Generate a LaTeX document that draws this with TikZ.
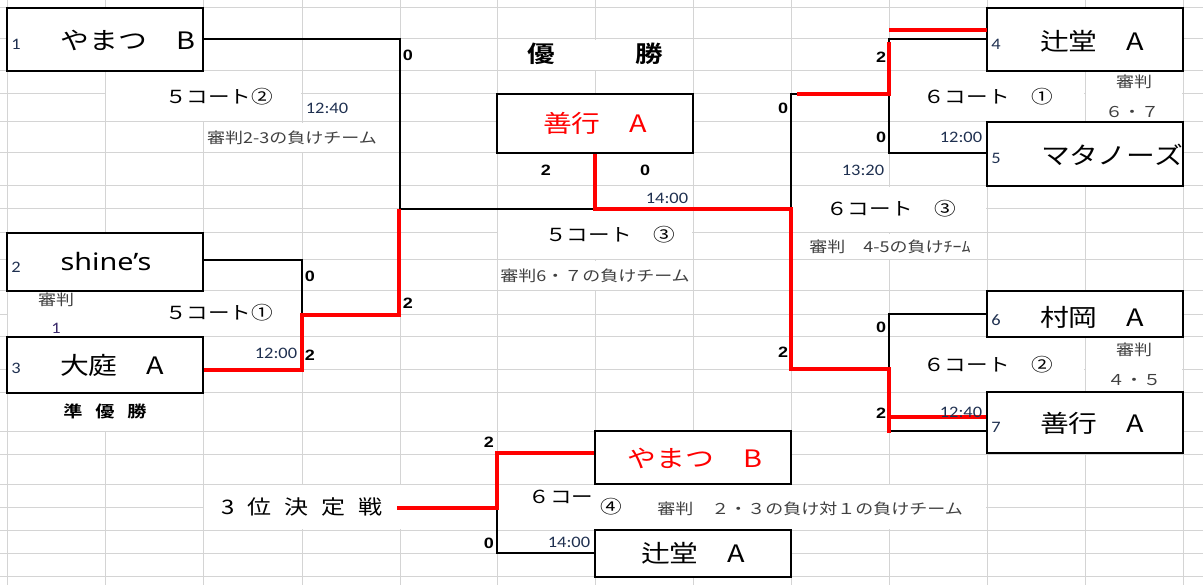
\documentclass[tikz,border=0pt]{standalone}
\usepackage{fontspec}
\setmainfont{Noto Sans CJK JP}
\newfontfamily\jp{Noto Sans CJK JP}[FakeStretch=1.2, BoldFont={Noto Sans CJK JP Bold}]
\newfontfamily\latfont{Noto Sans}[FakeStretch=1.2]
\newfontfamily\calfont{Carlito}[FakeStretch=1.15]
\newfontfamily\arifont{Liberation Sans}[FakeStretch=1.2]
\definecolor{gridc}{HTML}{D4D4D4}
\definecolor{redc}{HTML}{FF0000}
\definecolor{navy}{HTML}{1F3050}
\definecolor{refc}{HTML}{404040}
\definecolor{purp}{HTML}{3A2A6A}
\begin{document}
\begin{tikzpicture}[x=1pt,y=-1pt,
  grid/.style={draw=gridc, line width=1pt},
  box/.style={draw=black, line width=2.6pt, fill=white, minimum width=196pt, inner sep=0pt},
  blk/.style={draw=black, line width=2pt},
  win/.style={draw=redc, line width=3.6pt},
  team/.style={inner sep=0pt, font=\jp\fontsize{24}{24}\selectfont},
  idx/.style={inner sep=0pt, text=navy, font=\calfont\fontsize{16}{16}\selectfont},
  sc/.style={inner sep=0pt, font=\arifont\bfseries\fontsize{15}{15}\selectfont},
  crt/.style={inner sep=0pt, font=\jp\fontsize{18}{18}\selectfont},
  refr/.style={inner sep=0pt, text=refc, font=\jp\fontsize{15}{15}\selectfont},
  head/.style={inner sep=0pt, font=\jp\bfseries\fontsize{23}{23}\selectfont},
]
\useasboundingbox (0,0) rectangle (1203,585);
\fill[white] (0,0) rectangle (1203,585);
% spreadsheet grid
\foreach \x in {7,105,203,302,400,497,595,693,791,889,987,1085,1183}
  \draw[grid] (\x,0) -- (\x,585);
\foreach \y in {8,39,71,94,122,153,186,209,233,260,291,315,337,370,393,432,454,484,507,530,553,576}
  \draw[grid] (0,\y) -- (1203,\y);
% merged cells (no inner grid)
\foreach \a/\b/\c/\d in {105/71/302/122, 203/122/400/153, 497/39/693/71, 497/209/693/260,
  497/260/693/291, 889/71/1085/122, 1085/71/1183/122, 791/186/987/233, 791/233/987/260,
  889/337/1085/393, 1085/337/1183/393, 7/291/302/337, 7/393/203/432, 203/484/987/530}
  \fill[white] (\a+0.6,\b+0.6) rectangle (\c-0.6,\d-0.6);

% team boxes
\node[box, minimum height=63pt] (L1) at (105,39.5) {};
\node[box, minimum height=58pt] (L2) at (105,262) {};
\node[box, minimum height=56pt] (L3) at (105,365) {};
\node[box, minimum height=59pt] (W)  at (595,123.5) {};
\node[box, minimum height=63pt] (R4) at (1085,39.5) {};
\node[box, minimum height=64pt] (R5) at (1085,154) {};
\node[box, minimum height=46pt] (R6) at (1085,314) {};
\node[box, minimum height=61pt] (R7) at (1085,422.5) {};
\node[box, minimum height=53pt] (B1) at (693,457.5) {};
\node[box, minimum height=47pt] (B2) at (693,553.5) {};

% junction points
\coordinate (a1) at (400,39);
\coordinate (a2) at (400,209);
\coordinate (c1) at (302,315);
\coordinate (c2) at (302,370);
\coordinate (c3) at (399,315);
\coordinate (c4) at (399,209);
\coordinate (m1) at (595,209);
\coordinate (m2) at (791,209);
\coordinate (m3) at (791,94);
\coordinate (m4) at (797,94);
\coordinate (e1) at (889,94);
\coordinate (e2) at (889,42);
\coordinate (e3) at (889,30);
\coordinate (e4) at (889,39);
\coordinate (e5) at (889,153);
\coordinate (f1) at (791,369);
\coordinate (f2) at (889,369);
\coordinate (f3) at (889,433);
\coordinate (f4) at (889,417);
\coordinate (f5) at (889,314);
\coordinate (f6) at (889,431);
\coordinate (g0) at (397,508);
\coordinate (g1) at (497,508);
\coordinate (g2) at (497,453);
\coordinate (g3) at (497,553);

% black bracket lines
\draw[blk] (L1.east |- a1) -- (a1) -- (a2) -- (m1);
\draw[blk] (L2.east |- 0,260) -| (c1);
\draw[blk] (m2) -- (m3) -- (m4);
\draw[blk] (R4.west |- e4) -- (e4) -- (e5) -- (R5.west |- e5);
\draw[blk] (R6.west |- f5) -- (f5) -- (f6) -- (R7.west |- f6);
\draw[blk] (B1.west |- g2) -- (g2) -- (g3) -- (B2.west |- g3);

% red winning path
\draw[win] (L3.east |- c2) -- (c2) -- (c1) -- (c3) -- (c4);
\draw[win] (W.south) -- (m1) -- (m2) -- (f1) -- (f2) -- (f3);
\draw[win] (f4) -- (R7.west |- f4);
\draw[win] (m4) -- (e1) -- (e2);
\draw[win] (e3) -- ([xshift=1.5pt]R4.west |- e3);
\draw[win] (g0) -- (g1) -- (g2) -- (B1.west |- g2);

% team names
\node[team] (nL1) at (128,40) {やまつ　B};
\node[team, font=\latfont\fontsize{24}{24}\selectfont] (nL2) at (106,262) {shine’s};
\node[team] (nL3) at (112,365) {大庭　A};
\node[team, text=redc] (nW) at (595,123) {善行　A};
\node[team] (nR4) at (1092,41) {辻堂　A};
\node[team] (nR5) at (1112,155) {マタノーズ};
\node[team] (nR6) at (1092,317) {村岡　A};
\node[team] (nR7) at (1092,423) {善行　A};
\node[team, text=redc] (nB1) at (695,458) {やまつ　B};
\node[team] (nB2) at (693,553) {辻堂　A};

% seed numbers
\node[idx] (i1) at (16,44) {1};
\node[idx] (i2) at (16,267) {2};
\node[idx] (i3) at (16,368) {3};
\node[idx] (i4) at (996,44) {4};
\node[idx] (i5) at (996,158) {5};
\node[idx] (i6) at (996,320) {6};
\node[idx] (i7) at (996,427) {7};

% scores
\node[sc] (s1) at (408,55) {0};
\node[sc] (s2) at (408,303) {2};
\node[sc] (s3) at (310,276) {0};
\node[sc] (s4) at (310,355) {2};
\node[sc] (s5) at (546,170) {2};
\node[sc] (s6) at (645,170) {0};
\node[sc] (s7) at (783,108) {0};
\node[sc] (s8) at (881,57) {2};
\node[sc] (s9) at (881,137) {0};
\node[sc] (s10) at (783,352) {2};
\node[sc] (s11) at (881,327) {0};
\node[sc] (s12) at (881,413) {2};
\node[sc] (s13) at (489,442) {2};
\node[sc] (s14) at (489,543) {0};

% times
\node[idx] (t1) at (327,108) {12:40};
\node[idx] (t2) at (276,353) {12:00};
\node[idx] (t3) at (667,198) {14:00};
\node[idx] (t4) at (961,137) {12:00};
\node[idx] (t5) at (863,170) {13:20};
\node[idx] (t6) at (961,412) {12:40};
\node[idx] (t7) at (569,542) {14:00};

% courts
\node[crt] (k1) at (219,97) {５コート②};
\node[crt] (k2) at (219,313) {５コート①};
\node[crt] (k3) at (610,235) {５コート　③};
\node[crt] (k4) at (988,97) {６コート　①};
\node[crt] (k5) at (891,209) {６コート　③};
\node[crt] (k6) at (988,365) {６コート　②};
\node[crt] (k7) at (561,497) {６コー};
\node[crt] (k8) at (611,507) {④};

% referees
\node[refr] (r1) at (292,138) {審判2-3の負けチーム};
\node[refr] (r2) at (595,276) {審判6・７の負けチーム};
\node[refr] (r3) at (56,300) {審判};
\node[idx, text=purp] (r3b) at (56,328) {1};
\node[refr] (r4) at (1134,82) {審判};
\node[refr] (r5) at (1132,112) {６・７};
\node[refr] (r6) at (890,247) {審判　4-5の負けﾁｰﾑ};
\node[refr] (r7) at (1134,350) {審判};
\node[refr] (r8) at (1134,380) {４・５};
\node[refr] (r9) at (810,509) {審判　２・３の負け対１の負けチーム};

% headings
\node[head] (h1) at (595.5,54) {優\hspace{81pt}勝};
\node[head, font=\jp\bfseries\fontsize{16}{16}\selectfont] (h2) at (105,411) {準\hspace{12.8pt}優\hspace{12.8pt}勝};
\node[crt, font=\jp\fontsize{20}{20}\selectfont] (h3) at (302,507) {3\hspace{13pt}位\hspace{13pt}決\hspace{13pt}定\hspace{13pt}戦};
\end{tikzpicture}
\end{document}
